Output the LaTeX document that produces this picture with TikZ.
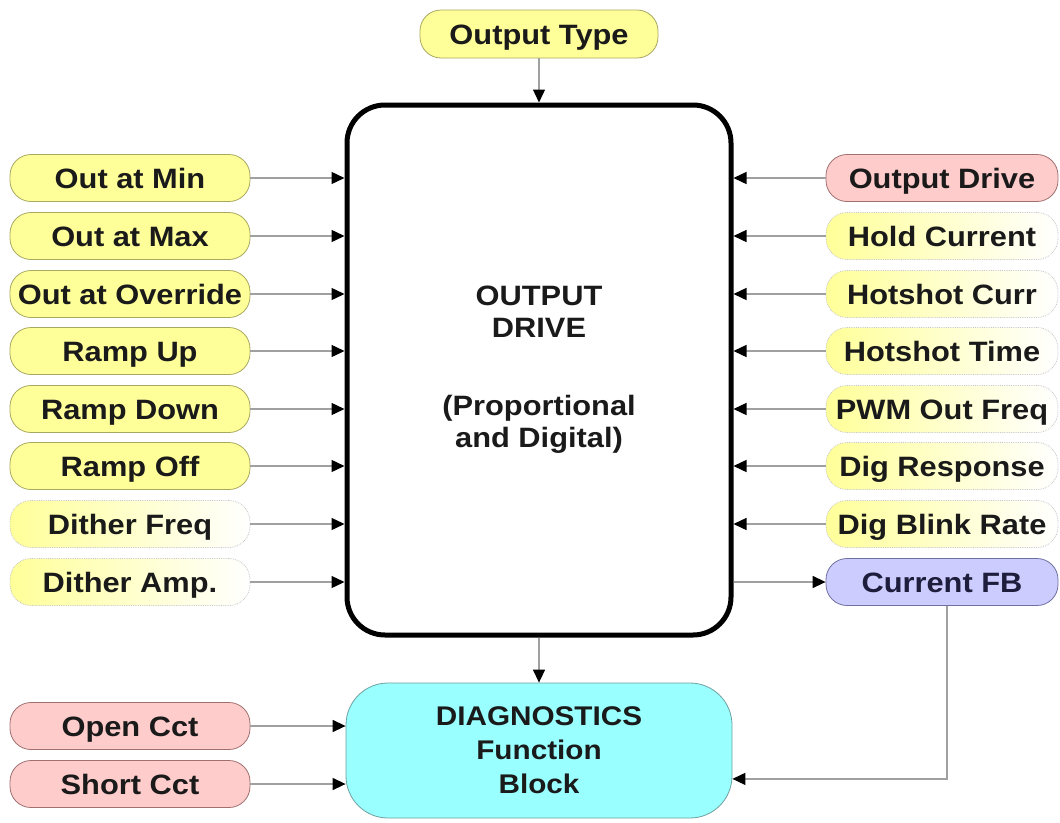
\documentclass[tikz,border=0pt]{standalone}
\usepackage{fontspec}
\setmainfont{Liberation Sans}[FakeStretch=1.1]
\usetikzlibrary{arrows.meta,calc}
\definecolor{ylw}{HTML}{FFFF99}
\definecolor{ylwedge}{HTML}{A8A860}
\definecolor{pnk}{HTML}{FFCCCC}
\definecolor{pnkedge}{HTML}{A07070}
\definecolor{lav}{HTML}{CCCCFF}
\definecolor{lavedge}{HTML}{7070A0}
\definecolor{cyn}{HTML}{99FFFF}
\definecolor{cynedge}{HTML}{6FA0A0}
\definecolor{linegray}{HTML}{A0A0A0}
\definecolor{txt}{HTML}{1A1A1A}
\begin{document}
\begin{tikzpicture}[x=1pt,y=-1pt,
  pill/.style={rounded corners=21pt, minimum height=47pt, inner sep=0pt,
    text height=20pt, text depth=0pt,
    text=txt, font=\fontsize{28}{32}\selectfont\bfseries, line width=0.8pt},
  lpill/.style={pill, minimum width=240pt},
  rpill/.style={pill, minimum width=232pt},
  solidy/.style={fill=ylw, draw=ylwedge},
  fadey/.style={left color=ylw, right color=white, draw=gray!45, densely dotted},
  pinkp/.style={fill=pnk, draw=pnkedge},
  lavp/.style={fill=lav, draw=lavedge, text={rgb,255:red,30;green,30;blue,60}},
  arr/.style={draw=linegray, line width=1.4pt, -{Triangle[length=13pt,width=12pt,color=black]}},
  bigbox/.style={draw=black, line width=5pt, rounded corners=38pt, fill=white,
    minimum width=384pt, minimum height=530pt, align=center, text=txt,
    font=\fontsize{28}{32}\selectfont\bfseries},
  diagbox/.style={draw=cynedge, fill=cyn, line width=0.8pt, rounded corners=42pt,
    minimum width=386pt, minimum height=135pt, align=center, text=txt,
    font=\fontsize{27}{34}\selectfont\bfseries}
]
\useasboundingbox (0,0) rectangle (1060,822);

% main blocks
\node[bigbox] (main) at (539,370) {OUTPUT\\DRIVE\\[46pt](Proportional\\and Digital)};
\node[diagbox] (diag) at (539,750.5) {DIAGNOSTICS\\Function\\Block};

% top input
\node[pill, solidy, minimum width=238pt, minimum height=48pt] (otype) at (539,34) {Output Type};

% left inputs
\node[lpill, solidy] (L1) at (130,178) {Out at Min};
\node[lpill, solidy] (L2) at (130,236) {Out at Max};
\node[lpill, solidy] (L3) at (130,294) {Out at Override};
\node[lpill, solidy] (L4) at (130,351) {Ramp Up};
\node[lpill, solidy] (L5) at (130,409) {Ramp Down};
\node[lpill, solidy] (L6) at (130,466) {Ramp Off};
\node[lpill, fadey] (L7) at (130,524) {Dither Freq};
\node[lpill, fadey] (L8) at (130,582) {Dither Amp.};

% right inputs
\node[rpill, pinkp] (R1) at (942,178) {Output Drive};
\node[rpill, fadey] (R2) at (942,236) {Hold Current};
\node[rpill, fadey] (R3) at (942,294) {Hotshot Curr};
\node[rpill, fadey] (R4) at (942,351) {Hotshot Time};
\node[rpill, fadey] (R5) at (942,409) {PWM Out Freq};
\node[rpill, fadey] (R6) at (942,466) {Dig Response};
\node[rpill, fadey] (R7) at (942,524) {Dig Blink Rate};
\node[rpill, lavp] (fb) at (942,582) {Current FB};

% diagnostics inputs
\node[lpill, pinkp] (oc) at (130,726) {Open Cct};
\node[lpill, pinkp] (sc) at (130,784) {Short Cct};

% connectors
\draw[arr] (otype.south) -- (main.north);
\foreach \n in {L1,L2,L3,L4,L5,L6,L7,L8}
  \draw[arr] (\n.east) -- (\n.east -| main.west);
\foreach \n in {R1,R2,R3,R4,R5,R6,R7}
  \draw[arr] (\n.west) -- (\n.west -| main.east);
\draw[arr] (fb.west -| main.east) -- (fb.west);
\draw[arr] (main.south) -- (diag.north);
\draw[arr] (oc.east) -- (oc.east -| diag.west);
\draw[arr] (sc.east) -- (sc.east -| diag.west);
\coordinate (fbturn) at ($(fb.south)+(5,173)$);
\draw[arr] ($(fb.south)+(5,0)$) -- (fbturn) -- (fbturn -| diag.east);
\end{tikzpicture}
\end{document}
